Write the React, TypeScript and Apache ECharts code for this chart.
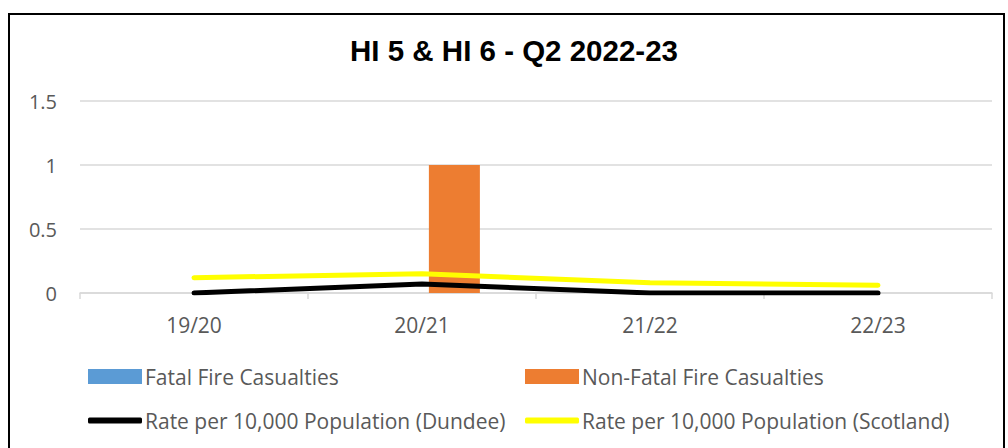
import React, { useEffect, useRef } from "react";
import * as echarts from "echarts";

const categories = ["19/20", "20/21", "21/22", "22/23"];
const fatal = [0, 0, 0, 0];
const nonFatal = [0, 1, 0, 0];
const rateDundee = [0, 0.07, 0, 0];
const rateScotland = [0.12, 0.15, 0.08, 0.06];
const titleText = "HI 5 & HI 6 - Q2 2022-23";
const seriesNames = [
  "Fatal Fire Casualties",
  "Non-Fatal Fire Casualties",
  "Rate per 10,000 Population (Dundee)",
  "Rate per 10,000 Population (Scotland)",
];

const FONT = "'Open Sans', sans-serif";
const TXT = "#595959";

export default function App() {
  const ref = useRef<HTMLDivElement>(null);
  useEffect(() => {
    document.body.style.margin = "0";
    const chart = echarts.init(ref.current!, null, { renderer: "svg" });
    const legendBase = (name: string, left: number, top: number, isLine: boolean) => ({
      data: [name],
      left,
      top,
      orient: "horizontal",
      itemWidth: 54,
      itemHeight: isLine ? 6 : 15,
      itemGap: 0,
      icon: isLine ? "roundRect" : "rect",
      textStyle: { fontFamily: FONT, fontSize: 21, color: TXT, padding: [0, 0, 0, -2] },
      padding: 0,
      selectedMode: false,
    });
    chart.setOption({
      animation: false,
      backgroundColor: "#ffffff",
      title: {
        text: titleText,
        left: 509,
        textAlign: "center",
        top: 30,
        textStyle: {
          fontFamily: "'Liberation Sans', Arial, sans-serif",
          fontWeight: "bold",
          fontSize: 29.5,
          color: "#000000",
        },
      },
      graphic: [
        {
          type: "rect",
          shape: { x: 9, y: 14, width: 995, height: 460 },
          style: { fill: "none", stroke: "#000000", lineWidth: 2 },
          silent: true,
        },
      ],
      grid: { left: 80, right: 16, top: 101, bottom: 155, containLabel: false },
      legend: [
        legendBase(seriesNames[0], 88, 366, false),
        legendBase(seriesNames[1], 525, 366, false),
        legendBase(seriesNames[2], 88, 410, true),
        legendBase(seriesNames[3], 525, 410, true),
      ],
      xAxis: {
        type: "category",
        data: categories,
        boundaryGap: true,
        axisLine: { show: true, lineStyle: { color: "#d9d9d9", width: 1.5 } },
        axisTick: { show: true, length: 6, lineStyle: { color: "#d9d9d9", width: 1.5 } },
        axisLabel: { fontFamily: FONT, fontSize: 21, color: TXT, margin: 21 },
      },
      yAxis: {
        type: "value",
        min: 0,
        max: 1.5,
        interval: 0.5,
        axisLine: { show: false },
        axisTick: { show: false },
        splitLine: { lineStyle: { color: "#d9d9d9", width: 1.5 } },
        axisLabel: { fontFamily: FONT, fontSize: 20, color: TXT, align: "right", margin: 23 },
      },
      series: [
        {
          name: seriesNames[0],
          type: "bar",
          data: fatal,
          barWidth: 51,
          barGap: "27%",
          itemStyle: { color: "#5B9BD5" },
        },
        {
          name: seriesNames[1],
          type: "bar",
          data: nonFatal,
          barWidth: 51,
          barGap: "27%",
          itemStyle: { color: "#ED7D31" },
        },
        {
          name: seriesNames[2],
          type: "line",
          data: rateDundee,
          symbol: "none",
          lineStyle: { color: "#000000", width: 5, cap: "round" },
          itemStyle: { color: "#000000" },
          z: 3,
        },
        {
          name: seriesNames[3],
          type: "line",
          data: rateScotland,
          symbol: "none",
          lineStyle: { color: "#FFFF00", width: 5, cap: "round" },
          itemStyle: { color: "#FFFF00" },
          z: 4,
        },
      ],
    });
    return () => chart.dispose();
  }, []);
  return (
    <div
      ref={ref}
      style={{ width: 1008, height: 448, position: "absolute", left: 0, top: 0 }}
    />
  );
}
